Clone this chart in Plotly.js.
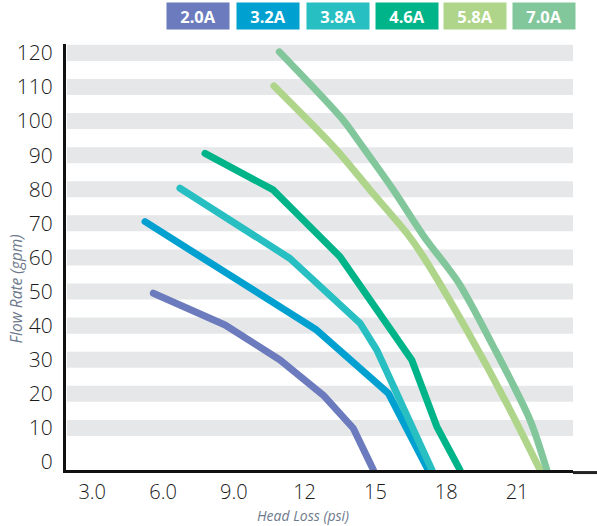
<!DOCTYPE html>
<html>
<head>
<meta charset="utf-8">
<script src="https://cdn.plot.ly/plotly-3.0.1.min.js"></script>
<style>
html,body{margin:0;padding:0;background:#fff;}
#chart{width:597px;height:526px;}
.scatterlayer .js-line{stroke-linecap:round;stroke-linejoin:round;}
</style>
</head>
<body>
<div id="chart"></div>
<script>
// Series names and colors
const seriesNames = ["2.0A", "3.2A", "3.8A", "4.6A", "5.8A", "7.0A"];
const seriesColors = ["#6b7bbd", "#00a1d0", "#27bfc1", "#00b48a", "#aed589", "#82c79c"];

// Head loss (psi) and flow rate (gpm) per series
const x20 = [5.59, 8.63, 10.96, 12.79, 14.06, 14.91];
const y20 = [49.5, 40.2, 29.9, 19.6, 9.9, -2.3];

const x32 = [5.24, 10.96, 12.51, 15.55, 17.23];
const y32 = [70.5, 45.5, 38.7, 20.1, -2.3];

const x38 = [6.72, 11.38, 14.35, 15.06, 17.39];
const y38 = [80.3, 59.7, 40.7, 32.8, -2.3];

const x46 = [7.78, 10.67, 11.81, 13.50, 16.54, 17.60, 18.58];
const y46 = [90.5, 79.8, 71.9, 60.2, 29.9, 10.4, -2.3];

const x58 = [10.70, 13.36, 14.77, 16.33, 17.03, 18.87, 20.56, 21.97];
const y58 = [110.3, 91.5, 79.8, 67.1, 60.2, 38.7, 17.2, -2.3];

const x70 = [10.93, 13.57, 14.35, 15.76, 17.10, 18.50, 20.00, 21.55, 22.26];
const y70 = [120.3, 100.8, 93.5, 79.8, 65.7, 52.8, 33.8, 12.3, -2.3];

const xs = [x20, x32, x38, x46, x58, x70];
const ys = [y20, y32, y38, y46, y58, y70];
const lineShapes = ["linear", "linear", "linear", "linear", "spline", "spline"];

// Tick labels
const yTickVals = [0, 10, 20, 30, 40, 50, 60, 70, 80, 90, 100, 110, 120];
const xTickVals = [3, 6, 9, 12, 15, 18, 21];
const xTickText = ["3.0", "6.0", "9.0", "12", "15", "18", "21"];

const traces = seriesNames.map((n, i) => ({
  type: "scatter",
  mode: "lines",
  name: n,
  x: xs[i],
  y: ys[i],
  line: {color: seriesColors[i], width: 7, shape: lineShapes[i], smoothing: 0.8},
  hoverinfo: "x+y+name"
}));

const bandHalf = 2.35;
const shapes = yTickVals.filter(v => v > 0).map(v => ({
  type: "rect", xref: "paper", yref: "y", x0: 0.002, x1: 1,
  y0: v - bandHalf, y1: v + bandHalf,
  fillcolor: "#e6e7e8", line: {width: 0}, layer: "below"
}));
shapes.push({
  type: "line", xref: "paper", yref: "paper", x0: 1, x1: 1.05, y0: -0.006, y1: -0.006,
  line: {color: "#222", width: 3}
});

const legendCenters = [198, 268, 338, 406.5, 475, 544];
const annotations = seriesNames.map((n, i) => ({
  xref: "paper", yref: "paper",
  x: (legendCenters[i] - 66) / 507, y: 1.0646,
  xanchor: "center", yanchor: "middle",
  text: "<b>" + n + "</b>", showarrow: false,
  bgcolor: seriesColors[i], width: 62, height: 26, borderpad: 0,
  font: {family: "Open Sans", size: 16.5, color: "#ffffff"}
}));
annotations.push({
  xref: "paper", yref: "paper", x: -0.0986, y: 0.424,
  xanchor: "center", yanchor: "middle", textangle: -90,
  text: "<i>Flow Rate (gpm)</i>", showarrow: false,
  font: {family: "Open Sans", size: 15.5, color: "#6e7a8c"}
});
annotations.push({
  xref: "paper", yref: "paper", x: 0.4675, y: -0.106,
  xanchor: "center", yanchor: "middle",
  text: "<i>Head Loss (psi)</i>", showarrow: false,
  font: {family: "Open Sans", size: 14, color: "#6e7a8c"}
});

const layout = {
  width: 597, height: 526,
  margin: {l: 66, r: 24, t: 44, b: 56},
  paper_bgcolor: "#ffffff", plot_bgcolor: "#ffffff",
  showlegend: false,
  xaxis: {
    range: [1.89, 23.37], showgrid: false, zeroline: false,
    showline: true, linecolor: "#111", linewidth: 3,
    tickmode: "array", tickvals: xTickVals, ticktext: xTickText,
    ticks: "", ticklabelstandoff: 2,
    tickfont: {family: "Open Sans", size: 20, color: "#1a1a1a", weight: 300}
  },
  yaxis: {
    range: [-2.35, 122.6], showgrid: false, zeroline: false,
    showline: true, linecolor: "#111", linewidth: 3,
    tickmode: "array", tickvals: yTickVals,
    ticks: "", ticklabelstandoff: 6,
    tickfont: {family: "Open Sans", size: 21, color: "#1a1a1a", weight: 300}
  },
  shapes: shapes,
  annotations: annotations
};

Plotly.newPlot("chart", traces, layout, {displayModeBar: false, staticPlot: true});
</script>
</body>
</html>
